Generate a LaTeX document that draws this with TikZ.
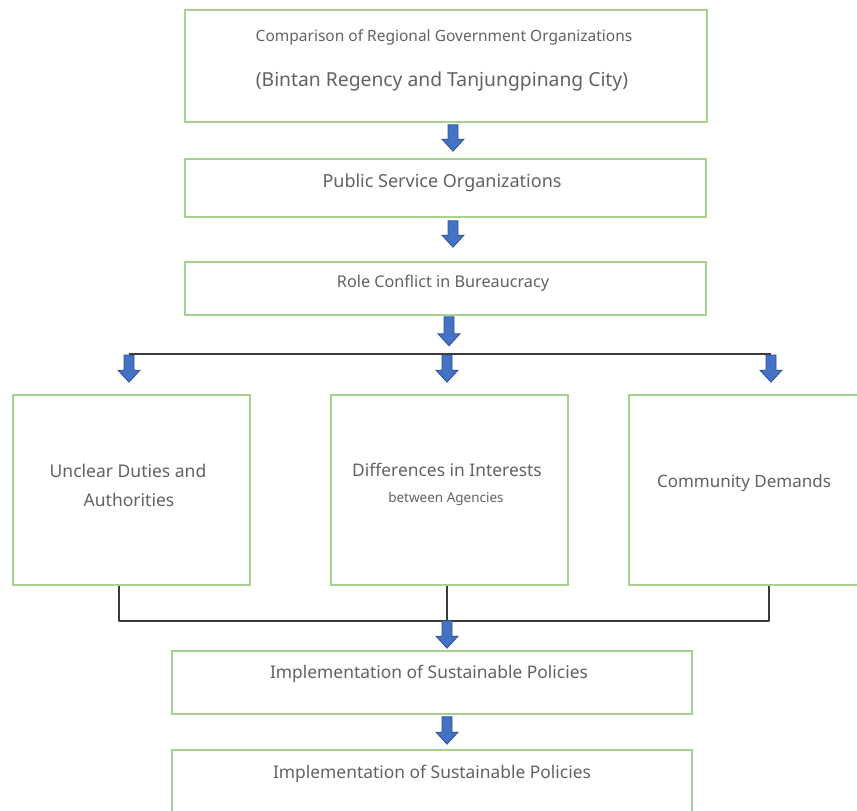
\documentclass[tikz,border=0pt]{standalone}
\usepackage{fontspec}
\setmainfont{Noto Sans}
\usetikzlibrary{calc}
\definecolor{boxgreen}{HTML}{A9D18E}
\definecolor{arrblue}{HTML}{4472C4}
\definecolor{arrdark}{HTML}{2F528F}
\definecolor{txtgray}{HTML}{626262}
\definecolor{linegray}{HTML}{3A3A3A}
\newcommand\blockarr[2]{%
  \path let \p1=(#1), \p2=(#2) in
    [draw=arrdark, fill=arrblue, line width=0.8pt, line join=miter]
    (\x1-5pt,\y1) -- (\x1+5pt,\y1) -- (\x1+5pt,\y2+12pt) -- (\x1+11pt,\y2+12pt)
    -- (\x1,\y2) -- (\x1-11pt,\y2+12pt) -- (\x1-5pt,\y2+12pt) -- cycle;}
\begin{document}
\begin{tikzpicture}[x=1pt,y=-1pt,
  box/.style={draw=boxgreen, line width=1.6pt, fill=white, inner sep=0pt},
  txt/.style={text=txtgray, inner sep=0pt, anchor=center},
  conn/.style={draw=linegray, line width=1.8pt}]
\useasboundingbox (0,0) rectangle (857,811);
\clip (0,0) rectangle (857,811);
% boxes
\node[box, minimum width=522pt, minimum height=112pt] (top) at (446,66) {};
\node[box, minimum width=521pt, minimum height=58pt] (pso) at (445.5,188) {};
\node[box, minimum width=521pt, minimum height=53pt] (rcb) at (445.5,288.5) {};
\node[box, minimum width=237pt, minimum height=190pt] (b1) at (131.5,490) {};
\node[box, minimum width=237pt, minimum height=190pt] (b2) at (449.5,490) {};
\node[box, minimum width=260pt, minimum height=190pt] (b3) at (759,490) {};
\node[box, minimum width=520pt, minimum height=63pt] (isp1) at (432,682.5) {};
\node[box, minimum width=520pt, minimum height=100pt] (isp2) at (432,800) {};
% texts
\node[txt, font=\fontsize{15.5}{18}\selectfont] (t1a) at (444,37) {Comparison of Regional Government Organizations};
\node[txt, font=\fontsize{19.3}{22}\selectfont] (t1b) at (442,81) {(Bintan Regency and Tanjungpinang City)};
\node[txt, font=\fontsize{18}{21}\selectfont] (t2) at (442,183) {Public Service Organizations};
\node[txt, font=\fontsize{16.2}{19}\selectfont] (t3) at (443,283) {Role Conflict in Bureaucracy};
\node[txt, font=\fontsize{17.5}{20}\selectfont] (t4a) at (128,471) {Unclear Duties and};
\node[txt, font=\fontsize{17.5}{20}\selectfont] (t4b) at (129,500) {Authorities};
\node[txt, font=\fontsize{17.4}{20}\selectfont] (t5a) at (447,470) {Differences in Interests};
\node[txt, font=\fontsize{13.5}{16}\selectfont] (t5b) at (446,499) {between Agencies};
\node[txt, font=\fontsize{17}{20}\selectfont] (t6) at (744,483) {Community Demands};
\node[txt, font=\fontsize{17.4}{20}\selectfont] (t7) at (429,674) {Implementation of Sustainable Policies};
\node[txt, font=\fontsize{17.4}{20}\selectfont] (t8) at (432,774) {Implementation of Sustainable Policies};
% block arrows top chain
\coordinate (a1s) at ($(top.south)+(7,2)$);
\coordinate (a1e) at ($(pso.north)+(7.5,-7)$);
\blockarr{a1s}{a1e}
\coordinate (a2s) at ($(pso.south)+(7.5,3)$);
\coordinate (a2e) at ($(rcb.north)+(7.5,-14)$);
\blockarr{a2s}{a2e}
\coordinate (a3s) at ($(rcb.south)+(3.5,1)$);
\coordinate (a3e) at ($(rcb.south)+(3.5,30)$);
% split line
\coordinate (sl) at (129,354);
\coordinate (sr) at (771,354);
\draw[conn] (sl) -- (sr);
\blockarr{a3s}{a3e}
\coordinate (d1s) at (129,355);
\coordinate (d2s) at (447,355);
\coordinate (d3s) at (771,355);
\blockarr{d1s}{$(b1.north)+(-2.5,-12)$}
\blockarr{d2s}{$(b2.north)+(-2.5,-12)$}
\blockarr{d3s}{$(b3.north)+(12,-12)$}
% merge
\coordinate (m1) at ($(b1.south)+(-12.5,35)$);
\coordinate (m2) at ($(b2.south)+(-2.5,35)$);
\coordinate (m3) at ($(b3.south)+(10,35)$);
\draw[conn, line join=round] ($(b1.south)+(-12.5,0)$) -- (m1) -- (m3) -- ($(b3.south)+(10,0)$);
\draw[conn] ($(b2.south)+(-2.5,0)$) -- (m2);
\blockarr{m2}{$(isp1.north)+(15,-2)$}
\coordinate (a5s) at ($(isp1.south)+(15,2)$);
\blockarr{a5s}{$(isp2.north)+(15,-5)$}
\end{tikzpicture}
\end{document}
